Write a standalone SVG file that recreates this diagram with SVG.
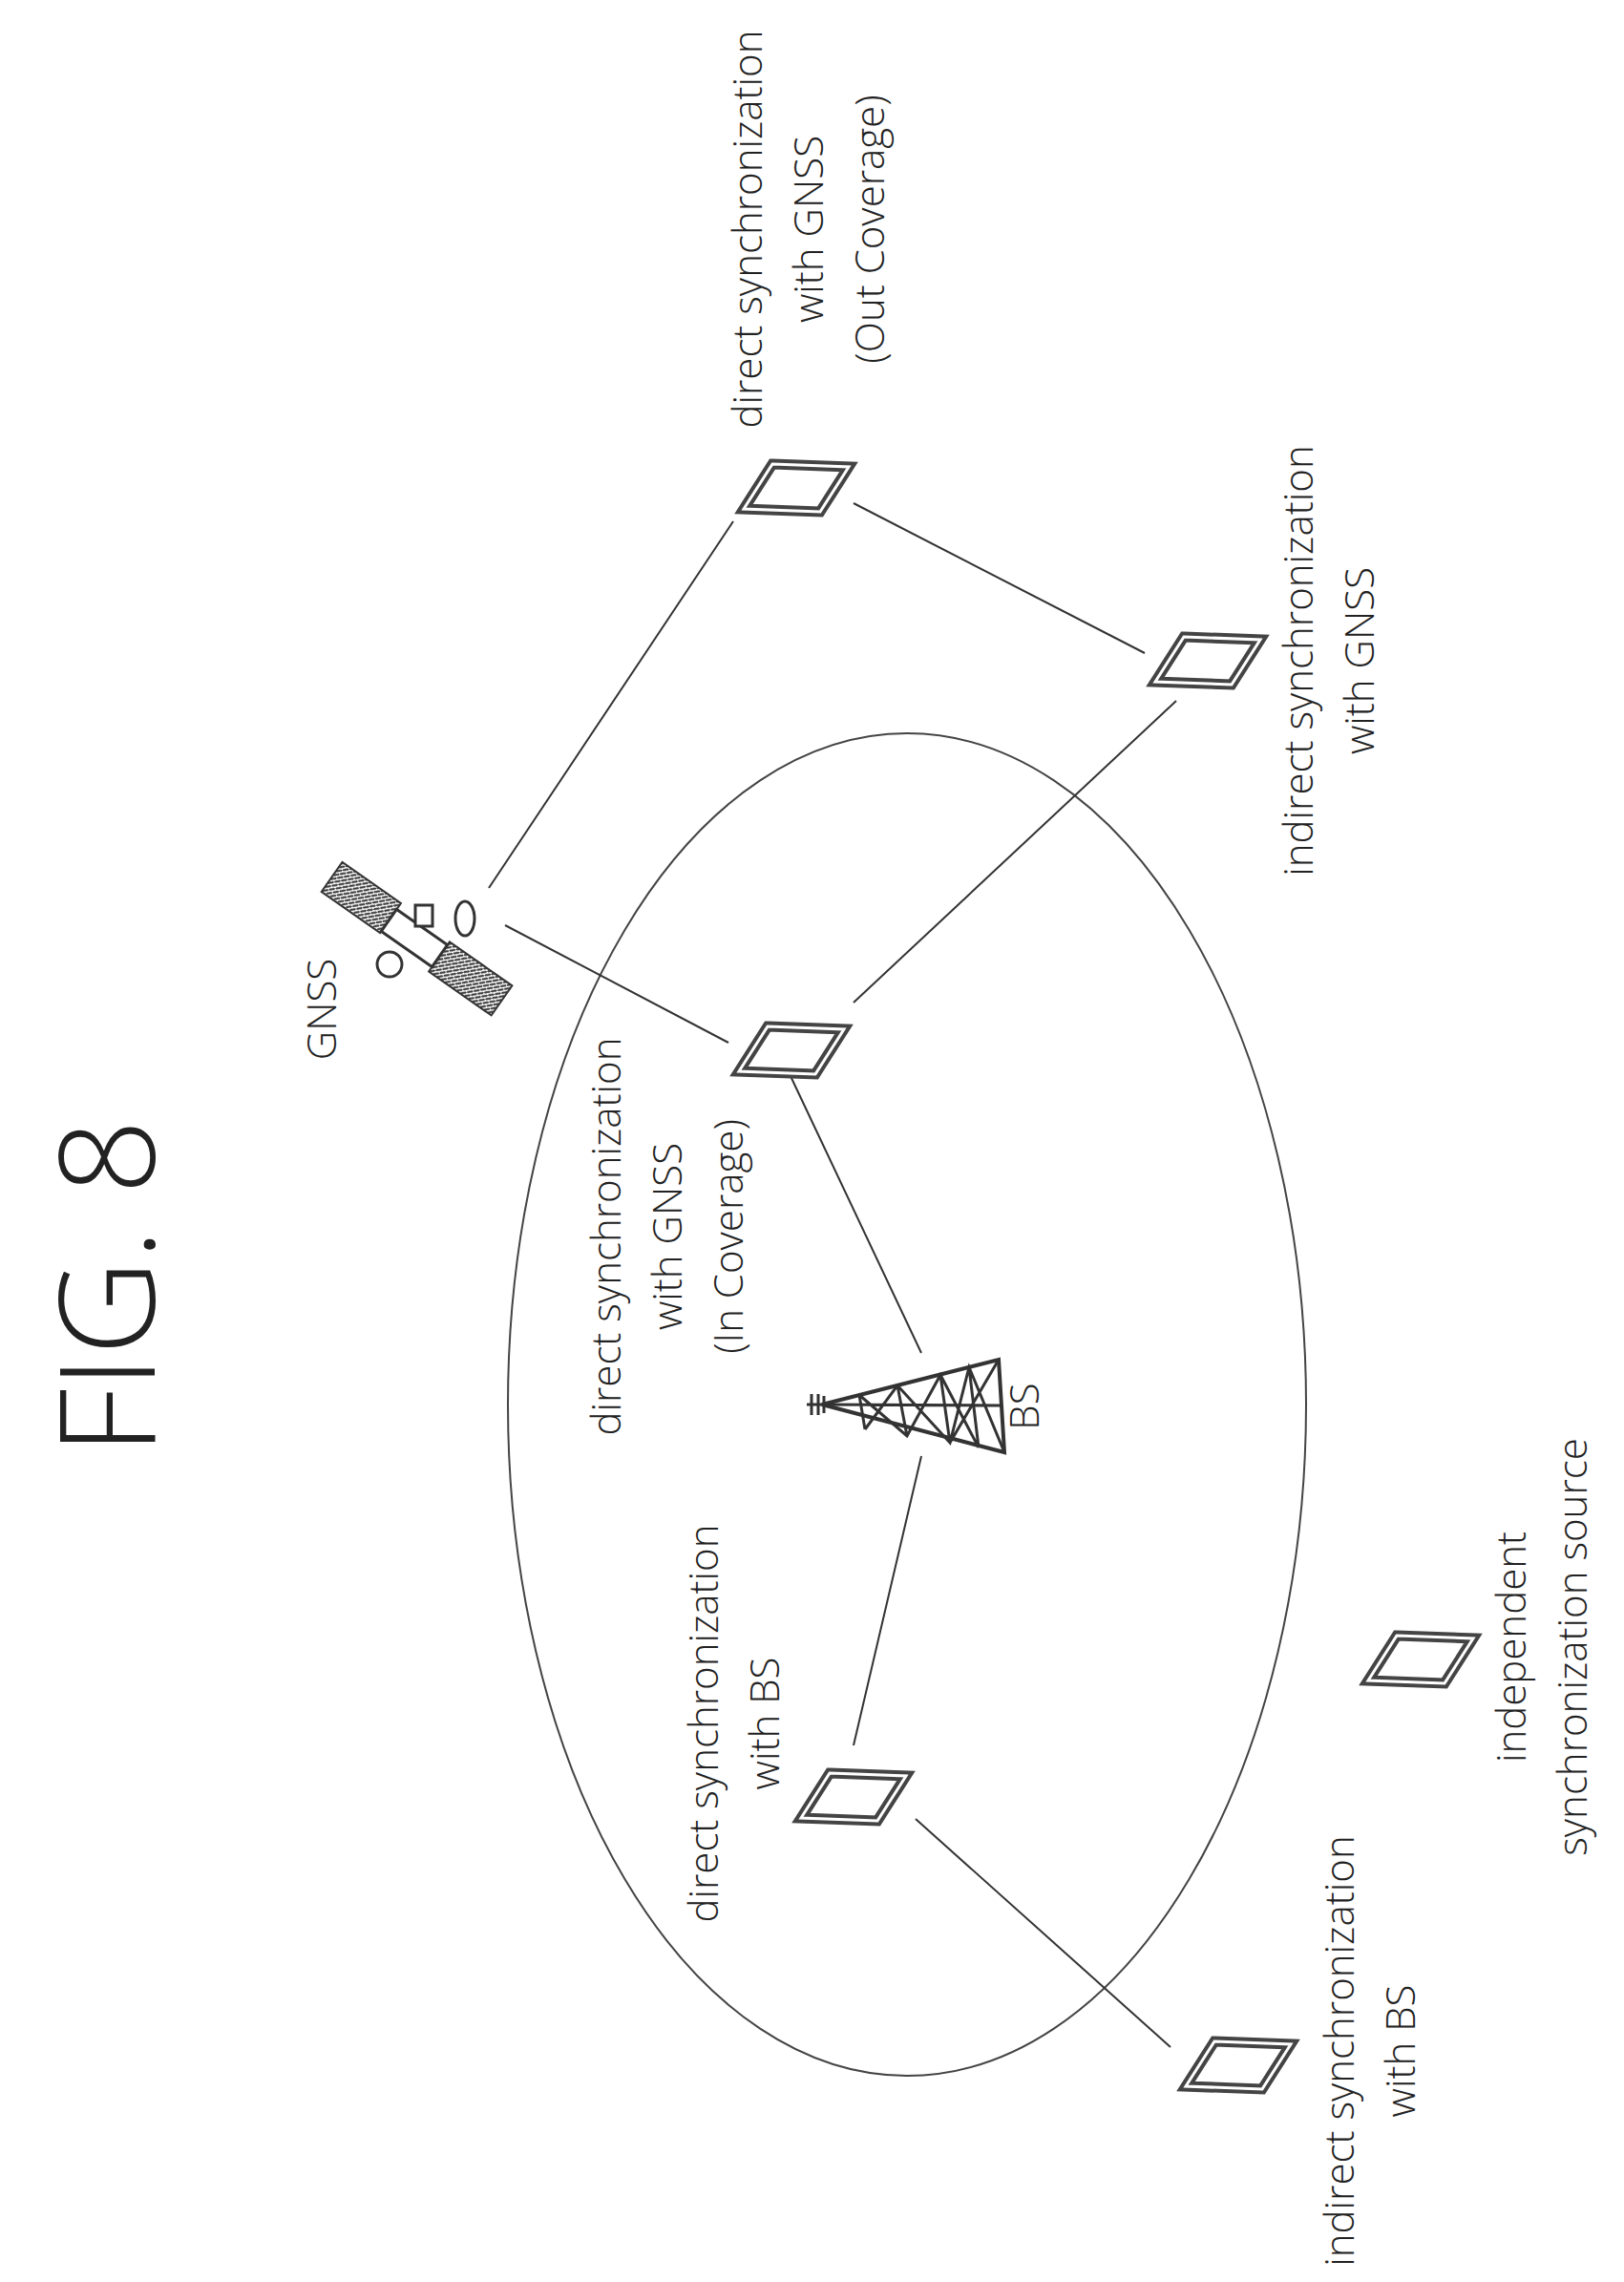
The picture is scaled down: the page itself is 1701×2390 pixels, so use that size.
<svg xmlns="http://www.w3.org/2000/svg" width="1701" height="2390" viewBox="0 0 1701 2390">
<style>
.t{font-family:"Open Sans","Noto Sans",sans-serif;font-weight:300;font-size:42px;fill:#222;text-anchor:middle}
.c{stroke:#333;stroke-width:2;fill:none}
.dev{fill:#fff;stroke:#444;stroke-width:11;stroke-linejoin:miter}
.devi{fill:none;stroke:#fff;stroke-width:3}
</style>
<defs>
<path id="ue" d="M -25,-25 L 55,-22 L 25,25 L -55,22 Z"/>
<pattern id="hat" width="5" height="5" patternUnits="userSpaceOnUse"><rect width="5" height="5" fill="#fff"/><path d="M0,5 L5,0" stroke="#333" stroke-width="2"/></pattern>
</defs>
<rect width="1701" height="2390" fill="#fff"/>
<text class="t" style="font-size:138px" transform="translate(162,1348) rotate(-90)">FIG. 8</text>
<g id="coverage"><ellipse cx="950" cy="1471" rx="418" ry="703" fill="none" stroke="#444" stroke-width="2"/></g>
<g id="connectors">
<line class="c" x1="512" y1="930" x2="768" y2="546"/>
<line class="c" x1="529" y1="969" x2="763" y2="1092"/>
<line class="c" x1="894" y1="1050" x2="1232" y2="734"/>
<line class="c" x1="894" y1="527" x2="1199" y2="684"/>
<line class="c" x1="828" y1="1127" x2="965" y2="1417"/>
<line class="c" x1="965" y1="1525" x2="894" y2="1828"/>
<line class="c" x1="959" y1="1905" x2="1226" y2="2144"/>
</g>
<g id="gnss">
<g transform="translate(436,984) rotate(35)">
<rect x="-110" y="-22" width="75" height="38" fill="url(#hat)" stroke="#333" stroke-width="2"/>
<rect x="30" y="-18" width="80" height="38" fill="url(#hat)" stroke="#333" stroke-width="2"/>
<rect x="-35" y="-14" width="65" height="28" fill="#fff" stroke="#333" stroke-width="3"/>
</g>
<circle cx="408" cy="1010" r="13" fill="#fff" stroke="#333" stroke-width="3"/>
<ellipse cx="487" cy="962" rx="10" ry="18" fill="#fff" stroke="#333" stroke-width="3"/>
<rect x="435" y="948" width="18" height="22" fill="#fff" stroke="#333" stroke-width="3"/>
<text class="t" transform="translate(352,1057) rotate(-90)">GNSS</text>
</g>
<g id="bs">
<path d="M861,1471 L1046,1424 L1052,1521 Z" fill="#fff" stroke="#333" stroke-width="4"/>
<path d="M900,1461 L906,1497 M940,1451 L950,1504 M985,1440 L995,1511 M1015,1432 L1025,1516 M900,1461 L950,1504 L985,1440 L1025,1516 M906,1497 L940,1451 L995,1511 L1015,1432 L1052,1521 M1046,1424 L995,1511 M861,1471 L1049,1472" stroke="#333" stroke-width="3" fill="none"/>
<path d="M845,1471 L866,1471 M850,1460 L850,1482 M857,1460 L857,1482 M863,1462 L863,1480" stroke="#333" stroke-width="3"/>
<text class="t" transform="translate(1088,1473) rotate(-90)">BS</text>
</g>
<g id="ue-out"><use href="#ue" class="dev" x="834" y="511"/><use href="#ue" class="devi" x="834" y="511"/>
<text class="t" transform="translate(798,240) rotate(-90)">direct synchronization</text>
<text class="t" transform="translate(862,240) rotate(-90)">with GNSS</text>
<text class="t" transform="translate(926,240) rotate(-90)">(Out Coverage)</text></g>
<g id="ue-indgnss"><use href="#ue" class="dev" x="1265" y="692"/><use href="#ue" class="devi" x="1265" y="692"/>
<text class="t" transform="translate(1375,692) rotate(-90)">indirect synchronization</text>
<text class="t" transform="translate(1439,692) rotate(-90)">with GNSS</text></g>
<g id="ue-in"><use href="#ue" class="dev" x="829" y="1100"/><use href="#ue" class="devi" x="829" y="1100"/>
<text class="t" transform="translate(650,1295) rotate(-90)">direct synchronization</text>
<text class="t" transform="translate(714,1295) rotate(-90)">with GNSS</text>
<text class="t" transform="translate(778,1295) rotate(-90)">(In Coverage)</text></g>
<g id="ue-dbs"><use href="#ue" class="dev" x="894" y="1882"/><use href="#ue" class="devi" x="894" y="1882"/>
<text class="t" transform="translate(752,1805) rotate(-90)">direct synchronization</text>
<text class="t" transform="translate(816,1805) rotate(-90)">with BS</text></g>
<g id="ue-ibs"><use href="#ue" class="dev" x="1297" y="2163"/><use href="#ue" class="devi" x="1297" y="2163"/>
<text class="t" transform="translate(1418,2148) rotate(-90)">indirect synchronization</text>
<text class="t" transform="translate(1482,2148) rotate(-90)">with BS</text></g>
<g id="ue-ind"><use href="#ue" class="dev" x="1488" y="1738"/><use href="#ue" class="devi" x="1488" y="1738"/>
<text class="t" transform="translate(1598,1725) rotate(-90)">independent</text>
<text class="t" transform="translate(1662,1725) rotate(-90)">synchronization source</text></g>
</svg>
